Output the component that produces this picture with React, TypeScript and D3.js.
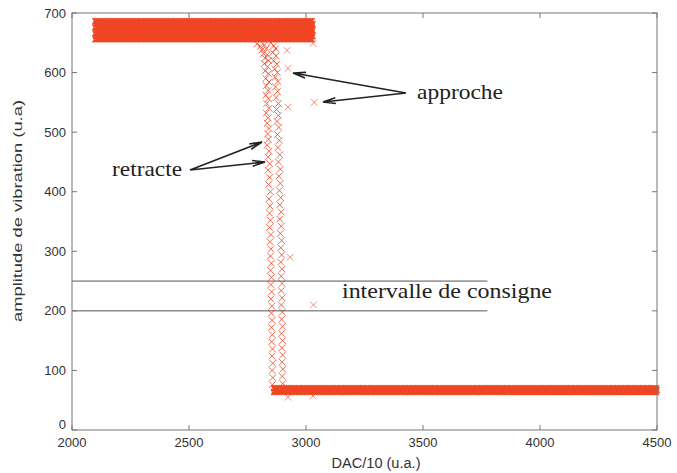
import React from 'react';
import * as d3 from 'd3';

// axis ticks
const xTicks = [2000, 2500, 3000, 3500, 4000, 4500];
const yTicks = [0, 100, 200, 300, 400, 500, 600, 700];

// dense plateaus (DAC sweep range, step and amplitude levels)
const upperBand = { from: 2100, to: 3026, step: 7, levels: [656, 661, 666, 671, 676, 681, 686] };
const lowerBand = { from: 2864, to: 4498, step: 7, levels: [64, 67, 70] };

// left descent (retracte)
const retractPts: [number, number][] = [
  [2790, 648], [2805, 644], [2822, 646], [2812, 638], [2830, 640], [2818, 632], [2835, 630],
  [2825, 624], [2840, 620], [2822, 615], [2836, 610], [2826, 603], [2840, 598], [2828, 590],
  [2842, 584], [2830, 578], [2838, 570], [2828, 562], [2840, 556], [2832, 548], [2842, 540],
  [2830, 532], [2838, 524], [2834, 515], [2842, 506], [2836, 497], [2840, 488], [2834, 478],
  [2842, 468], [2838, 458], [2845, 447], [2838, 436], [2845, 424], [2840, 412], [2848, 400],
  [2842, 388], [2846, 376], [2844, 364], [2848, 352], [2844, 340], [2850, 328], [2846, 316],
  [2850, 304], [2848, 292], [2852, 280], [2848, 268], [2852, 256], [2850, 244], [2853, 232],
  [2850, 220], [2854, 208], [2852, 196], [2855, 184], [2852, 172], [2856, 160], [2853, 148],
  [2857, 136], [2855, 124], [2858, 112], [2855, 100], [2858, 88], [2856, 76],
];

// right descent (approche)
const approachPts: [number, number][] = [
  [2850, 650], [2862, 645], [2870, 640], [2858, 634], [2872, 628], [2862, 620], [2875, 614],
  [2866, 606], [2878, 600], [2868, 592], [2880, 585], [2870, 576], [2878, 568], [2872, 558],
  [2882, 548], [2874, 538], [2882, 528], [2876, 518], [2884, 508], [2878, 496], [2886, 486],
  [2880, 474], [2888, 462], [2882, 450], [2890, 438], [2884, 426], [2890, 414], [2886, 402],
  [2892, 390], [2888, 378], [2894, 366], [2888, 354], [2894, 342], [2890, 330], [2896, 318],
  [2892, 306], [2896, 294], [2892, 282], [2898, 270], [2894, 258], [2898, 246], [2894, 234],
  [2898, 222], [2895, 210], [2899, 198], [2896, 186], [2900, 174], [2896, 162], [2900, 150],
  [2897, 138], [2900, 126], [2898, 114], [2901, 102], [2898, 90], [2901, 78],
];

// isolated points
const outliers: [number, number][] = [
  [2919, 637], [2923, 607], [2923, 542], [3030, 649], [3035, 550],
  [2932, 290], [3032, 210], [2923, 55], [3030, 57],
];

// setpoint interval
const consigne = [250, 200];
const consigneEnd = 3775;

const W = 677;
const H = 473;
const M = { left: 72, right: 657, top: 13, bottom: 430 };
const RED = '#f04523';

const App = () => {
  const x = d3.scaleLinear().domain([2000, 4500]).range([M.left, M.right]);
  const y = d3.scaleLinear().domain([0, 700]).range([M.bottom, M.top]);

  const bandPts = (b: typeof upperBand) => {
    const pts: [number, number][] = [];
    d3.range(b.from, b.to + 0.1, b.step).forEach((d) =>
      b.levels.forEach((l, j) => pts.push([d + ((j % 2) * b.step) / 2, l]))
    );
    return pts;
  };

  const cross = (pts: [number, number][], s = 3) =>
    pts
      .map(([a, b]) => {
        const px = x(a), py = y(b);
        return `M${px - s},${py - s}L${px + s},${py + s}M${px - s},${py + s}L${px + s},${py - s}`;
      })
      .join('');

  const arrow = (sx: number, sy: number, tx: number, ty: number) => {
    const dx = tx - sx, dy = ty - sy;
    const len = Math.hypot(dx, dy);
    const ux = dx / len, uy = dy / len;
    const hl = 13, a = 0.22;
    const h1 = [tx - hl * (ux * Math.cos(a) - uy * Math.sin(a)), ty - hl * (uy * Math.cos(a) + ux * Math.sin(a))];
    const h2 = [tx - hl * (ux * Math.cos(-a) - uy * Math.sin(-a)), ty - hl * (uy * Math.cos(-a) + ux * Math.sin(-a))];
    return `M${sx},${sy}L${tx},${ty}M${h1[0]},${h1[1]}L${tx},${ty}L${h2[0]},${h2[1]}`;
  };

  const frame = '#777';
  const tk = 5;

  return (
    <svg width={W} height={H} style={{ position: 'absolute', left: 0, top: 0, background: '#fff' }}>
      {/* data */}
      <path d={cross(bandPts(upperBand))} stroke={RED} strokeWidth={1.5} fill="none" />
      <path d={cross(bandPts(lowerBand))} stroke={RED} strokeWidth={1.5} fill="none" />
      <path d={cross(retractPts, 3.3)} stroke={RED} strokeWidth={1} fill="none" opacity={0.8} />
      <path d={cross(approachPts, 3.3)} stroke={RED} strokeWidth={1} fill="none" opacity={0.8} />
      <path d={cross(outliers, 3.3)} stroke={RED} strokeWidth={0.9} fill="none" opacity={0.7} />

      {/* consigne lines */}
      {consigne.map((c) => (
        <line key={c} x1={x(2000)} x2={x(consigneEnd)} y1={y(c)} y2={y(c)} stroke="#555" strokeWidth={1} />
      ))}

      {/* frame */}
      <rect x={M.left} y={M.top} width={M.right - M.left} height={M.bottom - M.top} fill="none" stroke={frame} strokeWidth={1} />
      {xTicks.map((t) => (
        <g key={t}>
          <line x1={x(t)} x2={x(t)} y1={M.bottom} y2={M.bottom - tk} stroke={frame} />
          <line x1={x(t)} x2={x(t)} y1={M.top} y2={M.top + tk} stroke={frame} />
          <text x={x(t)} y={M.bottom + 17} textAnchor="middle" fontFamily="Liberation Sans, Arial" fontSize={13} fill="#333">
            {t}
          </text>
        </g>
      ))}
      {yTicks.map((t) => (
        <g key={t}>
          <line x1={M.left} x2={M.left + tk} y1={y(t)} y2={y(t)} stroke={frame} />
          <line x1={M.right} x2={M.right - tk} y1={y(t)} y2={y(t)} stroke={frame} />
          <text x={M.left - 6} y={t === 0 ? y(t) - 6 : y(t)} dy="0.35em" textAnchor="end" fontFamily="Liberation Sans, Arial" fontSize={13} fill="#333">
            {t}
          </text>
        </g>
      ))}

      {/* axis titles */}
      <text x={376} y={468} textAnchor="middle" fontFamily="Liberation Sans, Arial" fontSize={14} fill="#333" textLength={89} lengthAdjust="spacingAndGlyphs">
        DAC/10 (u.a.)
      </text>
      <text transform="translate(22,211) rotate(-90)" textAnchor="middle" fontFamily="Liberation Sans, Arial" fontSize={12} fill="#333" textLength={222} lengthAdjust="spacingAndGlyphs">
        amplitude de vibration (u.a)
      </text>

      {/* annotations */}
      <g fontFamily="Liberation Serif, Times New Roman, serif" fontSize={22} fill="#222">
        <text x={417} y={99} textLength={86} lengthAdjust="spacingAndGlyphs">approche</text>
        <text x={112} y={176} textLength={70} lengthAdjust="spacingAndGlyphs">retracte</text>
        <text x={342} y={298} textLength={210} lengthAdjust="spacingAndGlyphs">intervalle de consigne</text>
      </g>
      <path d={arrow(406, 93, 293, 73) + arrow(406, 93, 323, 102)} stroke="#222" strokeWidth={1.6} fill="none" />
      <path d={arrow(190, 170, 262, 142) + arrow(190, 170, 265, 162)} stroke="#222" strokeWidth={1.6} fill="none" />
    </svg>
  );
};

export default App;
